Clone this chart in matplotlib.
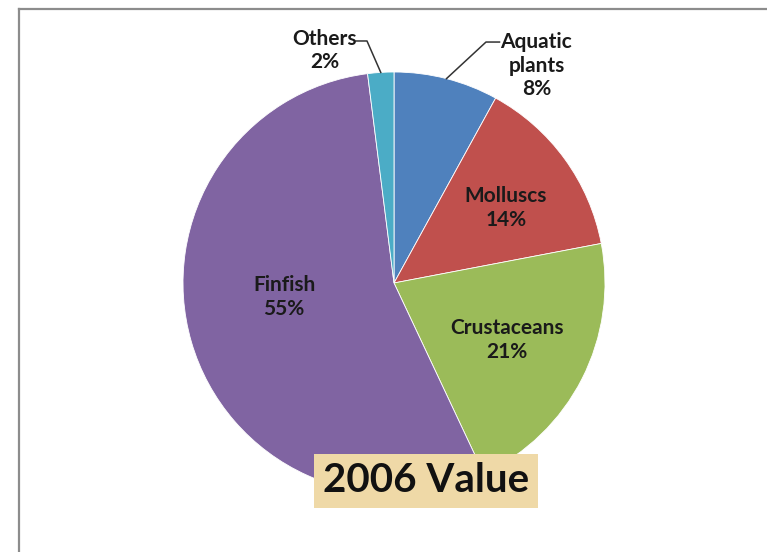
"""Pie chart of aquaculture production value by species group, 2006."""

import numpy as np
import matplotlib.pyplot as plt
from matplotlib.lines import Line2D

groups = ['Aquatic\nplants', 'Molluscs', 'Crustaceans', 'Finfish', 'Others']
shares = [8, 14, 21, 55, 2]
colors = ['#4F81BD', '#C0504D', '#9BBB59', '#8064A2', '#4BACC6']

# label centres in pie units (radius = 1)
label_pos = [(0.675, 1.03), (0.531, 0.355), (0.536, -0.27), (-0.521, -0.066), (-0.33, 1.10)]

W, H = 767, 552
cx, cy, r = 394, 283, 211

plt.rcParams['font.family'] = ['Lato', 'DejaVu Sans']

fig = plt.figure(figsize=(W / 100, H / 100), dpi=100)
ax = fig.add_axes([(cx - r) / W, (H - cy - r) / H, 2 * r / W, 2 * r / H])

wedges, _ = ax.pie(shares, colors=colors, startangle=90, counterclock=False,
                   radius=1, wedgeprops=dict(edgecolor='white', linewidth=0.6))
ax.set_xlim(-1, 1)
ax.set_ylim(-1, 1)
ax.set_aspect('equal')
ax.axis('off')

for w, name, val, (x, y) in zip(wedges, groups, shares, label_pos):
    ax.text(x, y, f'{name}\n{val}%', ha='center', va='center', fontsize=15,
            fontweight='bold', color='#1a1a1a', linespacing=1.2, clip_on=False)

# leader lines for the two small outer slices
def leader(wedge, knee, end):
    mid = np.deg2rad((wedge.theta1 + wedge.theta2) / 2)
    xs = [end[0], knee[0], np.cos(mid)]
    ys = [end[1], knee[1], np.sin(mid)]
    ax.plot(xs, ys, color='#333333', lw=1.1, clip_on=False)

leader(wedges[0], (0.436, 1.142), (0.5, 1.142))
leader(wedges[4], (-0.128, 1.147), (-0.18, 1.147))

# frame lines along the top and left edges
fig.add_artist(Line2D([19 / W, 1], [1 - 9 / H, 1 - 9 / H], color='#8c8c8c', lw=1.6))
fig.add_artist(Line2D([19 / W, 19 / W], [0, 1 - 9 / H], color='#8c8c8c', lw=1.6))

fig.text(426 / W, 1 - 481 / H, '2006 Value', ha='center', va='center',
         fontsize=29, fontweight='bold', color='#111111',
         bbox=dict(boxstyle='square,pad=0.22', facecolor='#EFD9A7', edgecolor='none'))

fig.savefig('out.png', dpi=100)
